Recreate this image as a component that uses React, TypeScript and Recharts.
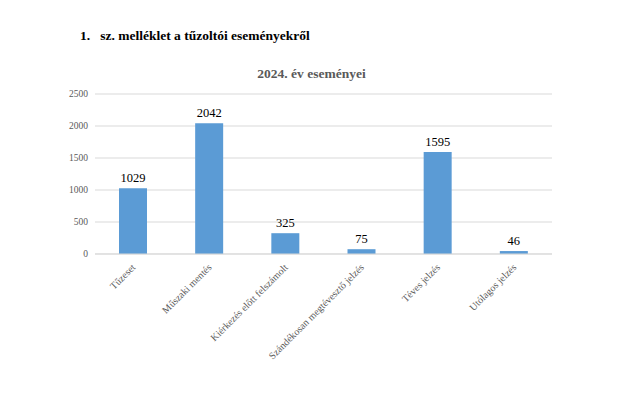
import { BarChart, Bar, XAxis, YAxis, CartesianGrid, LabelList } from "recharts";

const categories = [
  "Tűzeset",
  "Műszaki mentés",
  "Kiérkezés előtt felszámolt",
  "Szándékosan megtévesztő jelzés",
  "Téves jelzés",
  "Utólagos jelzés",
];
const counts = [1029, 2042, 325, 75, 1595, 46];
const yTicks = [0, 500, 1000, 1500, 2000, 2500];

const data = categories.map((name, i) => ({ name, value: counts[i] }));

const serif = "'Liberation Serif', 'Times New Roman', serif";

const AngledTick = (props: any) => {
  const { x, y, payload } = props;
  return (
    <g transform={`translate(${x + 3},${y + 6})`}>
      <text
        textAnchor="end"
        transform="rotate(-45)"
        fontSize={10}
        fill="#595959"
        fontFamily={serif}
      >
        {payload.value}
      </text>
    </g>
  );
};

const App = () => {
  return (
    <div style={{ position: "relative", width: 623, height: 399, background: "#fff" }}>
      <style>{"body{margin:0}"}</style>
      <div
        style={{
          position: "absolute",
          left: 80,
          top: 28,
          fontFamily: serif,
          fontWeight: "bold",
          fontSize: 13.5,
          color: "#000",
          whiteSpace: "pre",
        }}
      >
        {"1.   sz. melléklet a tűzoltói eseményekről"}
      </div>
      <div
        style={{
          position: "absolute",
          left: 0,
          width: 623,
          top: 66,
          textAlign: "center",
          fontFamily: serif,
          fontWeight: "bold",
          fontSize: 13.5,
          color: "#595959",
        }}
      >
        2024. év eseményei
      </div>
      <BarChart
        width={623}
        height={399}
        data={data}
        margin={{ top: 94, right: 71, left: 0, bottom: 0 }}
      >
        <CartesianGrid vertical={false} stroke="#d9d9d9" />
        <XAxis
          dataKey="name"
          height={145}
          interval={0}
          tick={<AngledTick />}
          tickLine={false}
          axisLine={{ stroke: "#d9d9d9" }}
        />
        <YAxis
          width={95}
          domain={[0, 2500]}
          ticks={yTicks}
          tickLine={false}
          axisLine={false}
          tickSize={0}
          tickMargin={7}
          tick={{ fontSize: 9.5, fill: "#595959", fontFamily: serif }}
        />
        <Bar dataKey="value" fill="#5b9bd5" barSize={28} isAnimationActive={false}>
          <LabelList
            dataKey="value"
            position="top"
            offset={6}
            style={{ fontSize: 12.5, fill: "#000", fontFamily: serif }}
          />
        </Bar>
      </BarChart>
    </div>
  );
};

export default App;
